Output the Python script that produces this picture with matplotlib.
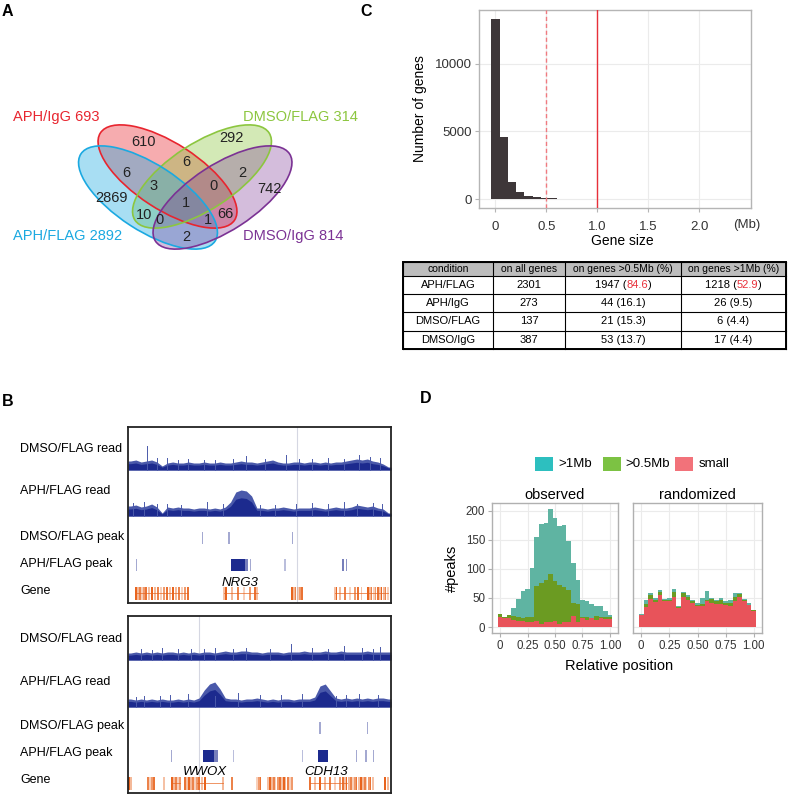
import numpy as np
import matplotlib
matplotlib.use('Agg')
import matplotlib.pyplot as plt
from matplotlib.patches import Ellipse, Rectangle

plt.rcParams['font.family'] = ['Liberation Sans', 'DejaVu Sans']

# ---------------- DATA ----------------
# Panel A (Venn)
venn_names = ["APH/IgG", "DMSO/FLAG", "APH/FLAG", "DMSO/IgG"]
venn_totals = [693, 314, 2892, 814]
venn_regions = [610, 292, 6, 6, 2, 3, 0, 742, 2869, 1, 10, 0, 1, 66, 2]

# Panel C histogram (gene size, Mb) - 30 bins
gene_counts = [13300, 4580, 1280, 517, 246, 148, 74, 50, 30, 20, 14, 8, 6, 5, 4,
               3, 5, 2, 2, 4, 1, 1, 1, 0, 0, 0, 1, 0, 0, 1]
gene_bin_width = 0.081

# Panel C table
table_header = ["condition", "on all genes", "on genes >0.5Mb (%)", "on genes >1Mb (%)"]
table_condition = ["APH/FLAG", "APH/IgG", "DMSO/FLAG", "DMSO/IgG"]
table_all = [2301, 273, 137, 387]
table_05 = [1947, 44, 21, 53]
table_05_pct = [84.6, 16.1, 15.3, 13.7]
table_1 = [1218, 26, 6, 17]
table_1_pct = [52.9, 9.5, 4.4, 4.4]

# Panel B read coverage (50 samples across locus)
nrg3_dmso_read = [9, 10, 8, 9, 10, 8, 4, 7, 8, 7, 7, 8, 7, 7, 8, 7, 7, 8, 7, 7, 8, 9, 8, 8, 7,
                  8, 9, 10, 8, 7, 7, 8, 8, 7, 8, 8, 7, 8, 7, 8, 8, 9, 10, 11, 10, 11, 9, 8, 6, 3]
nrg3_aph_read = [10, 11, 9, 10, 12, 9, 3, 9, 8, 9, 8, 8, 7, 8, 8, 7, 8, 7, 9, 14, 24, 26, 25, 20, 8,
                 8, 7, 8, 8, 9, 8, 7, 8, 8, 8, 9, 8, 7, 8, 9, 8, 8, 9, 11, 10, 9, 10, 8, 7, 3]
wwox_dmso_read = [7, 8, 7, 8, 7, 8, 7, 8, 8, 7, 8, 7, 8, 7, 8, 8, 7, 8, 9, 8, 8, 9, 9, 8, 8,
                  7, 8, 8, 8, 7, 8, 8, 8, 9, 8, 8, 8, 9, 8, 8, 9, 8, 8, 8, 8, 9, 8, 8, 8, 8]
wwox_aph_read = [8, 7, 8, 7, 8, 7, 8, 7, 7, 8, 7, 8, 7, 9, 17, 23, 25, 18, 9, 8, 8, 7, 8, 8, 9,
                 8, 7, 8, 7, 8, 8, 7, 8, 8, 8, 10, 21, 23, 16, 9, 8, 9, 8, 9, 8, 9, 8, 9, 9, 8]
# isolated spikes (position 0-1000, height)
nrg3_dmso_spikes = [(72, 24), (110, 12), (150, 12), (190, 10), (230, 11), (290, 10), (330, 10),
                    (400, 11), (450, 14), (520, 11), (600, 15), (650, 11), (700, 11), (760, 12),
                    (820, 11), (880, 15), (920, 13), (960, 12)]
nrg3_aph_spikes = [(20, 13), (60, 14), (110, 12), (150, 12), (200, 11), (300, 14), (360, 12),
                   (500, 11), (560, 11), (640, 12), (700, 13), (760, 12), (820, 14), (870, 12),
                   (930, 13), (965, 12)]
wwox_dmso_spikes = [(50, 11), (90, 10), (130, 12), (190, 11), (240, 11), (290, 11), (330, 12),
                    (400, 11), (450, 12), (540, 11), (620, 16), (700, 12), (760, 11), (820, 14),
                    (890, 12), (930, 11), (960, 13)]
wwox_aph_spikes = [(30, 10), (60, 11), (120, 11), (160, 12), (230, 13), (330, 11), (420, 14),
                   (500, 12), (580, 12), (660, 13), (790, 11), (830, 12), (880, 13), (950, 12)]

# Peak calls (start, end, intensity)
nrg3_dmso_peaks = [(283, 287, 0.4), (382, 386, 0.4), (622, 626, 0.4)]
nrg3_aph_peaks = [(32, 36, 0.4), (392, 445, 1.0), (445, 456, 0.6), (462, 466, 0.4),
                  (595, 599, 0.3), (815, 820, 0.6), (827, 832, 0.5)]
wwox_dmso_peaks = [(728, 732, 0.4), (907, 911, 0.4)]
wwox_aph_peaks = [(165, 169, 0.4), (285, 327, 1.0), (327, 342, 0.6), (398, 402, 0.3),
                  (660, 664, 0.3), (722, 760, 1.0), (868, 872, 0.4), (903, 907, 0.4), (933, 937, 0.4)]

# Gene exons and introns (positions 0-1000)
nrg3_exons = [30, 38, 46, 53, 61, 68, 80, 91, 103, 114, 125, 137, 148, 160, 171, 182, 194, 205,
              217, 228, 365, 373, 395, 418, 441, 464, 483, 490, 623, 631, 638, 646, 654, 661,
              787, 794, 806, 825, 844, 863, 874, 889, 912, 920, 927, 935, 942, 950, 958, 965,
              973, 980, 988]
nrg3_introns = [(30, 228), (365, 494), (787, 988)]
wwox_exons = [4, 11, 76, 84, 91, 99, 137, 167, 175, 182, 190, 198, 217, 224, 232, 239, 247,
              255, 262, 270, 281, 293, 361, 395, 490, 498, 505, 532, 540, 547, 555, 562, 570,
              578, 585, 593, 600, 608, 616, 623, 692, 711, 730, 749, 768, 787, 806, 817, 825,
              832, 840, 848, 855, 863, 870, 878, 886, 893, 901, 908, 916, 923, 931, 977, 988]
wwox_introns = [(262, 361), (692, 832), (167, 198)]

# Panel D histogram of relative peak position (25 bins)
obs_small = [17, 16, 15, 13, 11, 10, 8, 9, 10, 5, 8, 8, 11, 5, 8, 8, 19, 8, 15, 13, 15, 13, 15, 14, 14]
obs_mid = [5, 1, 5, 6, 7, 6, 9, 9, 60, 70, 73, 83, 69, 67, 61, 56, 23, 32, 2, 4, 1, 6, 3, 3, 3]
obs_large = [0, 1, 0, 14, 30, 46, 48, 83, 85, 102, 97, 112, 107, 102, 106, 84, 68, 41, 30, 28, 23, 18, 18, 11, 3]
rand_small = [20, 34, 48, 43, 55, 44, 44, 52, 32, 52, 47, 41, 36, 36, 45, 41, 40, 40, 38, 37, 44, 51, 44, 38, 28]
rand_mid = [1, 6, 7, 4, 5, 2, 3, 8, 3, 6, 5, 3, 2, 4, 2, 7, 4, 6, 3, 5, 8, 5, 2, 0, 1]
rand_large = [1, 6, 3, 3, 3, 2, 3, 5, 2, 3, 3, 3, 3, 10, 15, 2, 3, 4, 3, 5, 6, 3, 2, 3, 1]
size_labels = [">1Mb", ">0.5Mb", "small"]

# ---------------- FIGURE ----------------
W, H = 792, 794
fig = plt.figure(figsize=(W / 100, H / 100), dpi=100)
renderer = fig.canvas.get_renderer()


def box(x0, y0, x1, y1):
    return [x0 / W, 1 - y1 / H, (x1 - x0) / W, (y1 - y0) / H]


def ftext(x, y, s, **kw):
    return fig.text(x / W, 1 - y / H, s, **kw)


# panel letters
for lab, (x, y) in zip("ABCD", [(2, 12), (2, 401), (360, 12), (420, 398)]):
    ftext(x, y, lab, fontsize=11.5, fontweight='bold', ha='left', va='center')

# ---------------- Panel A ----------------
axA = fig.add_axes(box(0, 90, 400, 270))
axA.set_xlim(0, 400)
axA.set_ylim(270, 90)
axA.axis('off')
venn_colors = ['#e8252f', '#8cc63f', '#1ba9e1', '#7b3294']
venn_alpha = [0.38, 0.38, 0.38, 0.32]
venn_centers = [(167.5, 176.5), (202, 176.5), (148, 197.5), (222.5, 197.5)]
venn_angles = [33, -33, 33, -33]
for c, col, a, ang in zip(venn_centers, venn_colors, venn_alpha, venn_angles):
    axA.add_patch(Ellipse(c, 160, 66, angle=ang, facecolor=col, alpha=a, edgecolor='none'))
for c, col, ang in zip(venn_centers, venn_colors, venn_angles):
    axA.add_patch(Ellipse(c, 160, 66, angle=ang, facecolor='none', edgecolor=col, lw=1.2))
region_pos = [(143, 142), (231, 138), (186, 162), (126, 173), (242, 173), (154, 186),
              (213, 186), (269, 189), (111, 198), (186, 203), (144, 215), (160, 220),
              (208, 220), (225, 214), (186, 237)]
for (x, y), v in zip(region_pos, venn_regions):
    axA.text(x, y, str(v), ha='center', va='center', fontsize=10.5, color='#222222')
label_pos = [(13, 117), (243, 117), (13, 236), (243, 236)]
for (x, y), n, t, col in zip(label_pos, venn_names, venn_totals, venn_colors):
    axA.text(x, y, f"{n} {t}", ha='left', va='center', fontsize=10.5, color=col)

# ---------------- Panel C histogram ----------------
grey_txt = '#333333'
axC = fig.add_axes(box(479, 10, 751, 208))
centers = np.arange(len(gene_counts)) * gene_bin_width
axC.bar(centers, gene_counts, width=gene_bin_width, color='#3e3739', linewidth=0, zorder=2)
axC.axvline(0.5, color='#f07a80', ls=(0, (3, 2)), lw=1, zorder=3)
axC.axvline(1.0, color='#e8303a', lw=1, zorder=3)
axC.set_xlim(-0.162, 2.51)
axC.set_ylim(-665, 13990)
axC.set_xticks([0, 0.5, 1.0, 1.5, 2.0])
axC.set_xticklabels(['0', '0.5', '1.0', '1.5', '2.0'])
axC.set_yticks([0, 5000, 10000])
axC.grid(True, color='#ebebeb', lw=0.8)
axC.set_axisbelow(True)
for s in axC.spines.values():
    s.set_color('#b5b5b5')
    s.set_linewidth(1)
axC.tick_params(color='#b5b5b5', length=3, labelsize=9.5, labelcolor=grey_txt, pad=2)
axC.tick_params(axis='x', pad=6)
ftext(747, 225, '(Mb)', ha='center', va='center', fontsize=9.5, color=grey_txt)
ftext(622, 241, 'Gene size', ha='center', va='center', fontsize=10)
ftext(420, 109, 'Number of genes', ha='center', va='center', fontsize=10, rotation=90)

# ---------------- Panel C table ----------------
axT = fig.add_axes(box(403, 262, 786, 349))
axT.set_xlim(403, 786)
axT.set_ylim(349, 262)
axT.axis('off')
col_x = [403, 493, 565, 681, 786]
row_y = [262, 276, 294, 312, 331, 349]
axT.add_patch(Rectangle((col_x[0], row_y[0]), col_x[-1] - col_x[0], row_y[1] - row_y[0],
                        facecolor='#bdbdbd', edgecolor='none'))
for y in row_y:
    axT.plot([col_x[0], col_x[-1]], [y, y], color='black', lw=0.8, clip_on=False)
for x in col_x:
    axT.plot([x, x], [row_y[0], row_y[-1]], color='black', lw=0.8, clip_on=False)
axT.add_patch(Rectangle((col_x[0], row_y[0]), col_x[-1] - col_x[0], row_y[-1] - row_y[0],
                        facecolor='none', edgecolor='black', lw=1.4, clip_on=False))
fs_h = 7.5
fs_t = 8.0
for j, h in enumerate(table_header):
    axT.text((col_x[j] + col_x[j + 1]) / 2, (row_y[0] + row_y[1]) / 2, h,
             ha='center', va='center', fontsize=fs_h)


def mixed_cell(cx, cy, num, pct, red):
    full = f"{num} ({pct})"
    if not red:
        axT.text(cx, cy, full, ha='center', va='center', fontsize=fs_t)
        return
    t0 = axT.text(cx, cy, full, ha='center', va='center', fontsize=fs_t)
    bb = t0.get_window_extent(renderer=renderer)
    t0.remove()
    inv = axT.transData.inverted()
    x_left = inv.transform((bb.x0, bb.y0))[0]
    t1 = axT.text(x_left, cy, f"{num} (", ha='left', va='center', fontsize=fs_t)
    t2 = axT.annotate(f"{pct}", xy=(1, 0), xycoords=t1, ha='left', va='bottom', fontsize=fs_t,
                      color='#e8303a')
    axT.annotate(")", xy=(1, 0), xycoords=t2, ha='left', va='bottom', fontsize=fs_t)


for i in range(len(table_condition)):
    cy = (row_y[i + 1] + row_y[i + 2]) / 2
    axT.text((col_x[0] + col_x[1]) / 2, cy, table_condition[i], ha='center', va='center', fontsize=fs_t)
    axT.text((col_x[1] + col_x[2]) / 2, cy, str(table_all[i]), ha='center', va='center', fontsize=fs_t)
    mixed_cell((col_x[2] + col_x[3]) / 2, cy, table_05[i], table_05_pct[i], i == 0)
    mixed_cell((col_x[3] + col_x[4]) / 2, cy, table_1[i], table_1_pct[i], i == 0)

# ---------------- Panel B ----------------
navy = '#1c2a8e'
light_navy = '#4a59aa'
orange = '#e8641e'


def draw_locus(ax, dmso_read, aph_read, dmso_sp, aph_sp, dmso_pk, aph_pk, exons, introns,
               gene_names, vline_x, base_dmso, base_aph, pk_dmso_y, pk_aph_y, gene_y, name_y):
    n = len(dmso_read)
    xs = (np.arange(n) + 0.5) * 1000 / n
    xs = np.concatenate([[0], xs, [1000]])
    ax.axvline(vline_x, color='#d5d7e2', lw=0.8, zorder=0)
    for vals, base, sp in [(dmso_read, base_dmso, dmso_sp), (aph_read, base_aph, aph_sp)]:
        vals = np.array(vals, dtype=float)
        vals = np.concatenate([[vals[0]], vals, [vals[-1]]])
        ax.fill_between(xs, base, base + vals, color=light_navy, linewidth=0)
        ax.fill_between(xs, base, base + vals * 0.7, color=navy, linewidth=0)
        for (p, h) in sp:
            ax.plot([p, p], [base, base + h], color=light_navy, lw=0.7)
    for pk, yc in [(dmso_pk, pk_dmso_y), (aph_pk, pk_aph_y)]:
        for (s, e, a) in pk:
            ax.add_patch(Rectangle((s, yc - 6), e - s, 12, facecolor=navy, alpha=a, linewidth=0))
    for (s, e) in introns:
        ax.plot([s, e], [gene_y, gene_y], color=orange, lw=0.6, alpha=0.8)
    alphas = [1.0, 0.45, 0.8, 0.3, 0.65, 0.9, 0.4]
    for k, ex in enumerate(exons):
        ax.add_patch(Rectangle((ex - 2.5, gene_y - 6.5), 5, 13, facecolor=orange,
                               alpha=alphas[k % len(alphas)], linewidth=0))
    for (nm, x) in gene_names:
        ax.text(x, name_y, nm, ha='center', va='center', fontsize=9.5, style='italic')
    ax.set_xlim(0, 1000)
    ax.set_xticks([])
    ax.set_yticks([])
    for s in ax.spines.values():
        s.set_color('#222222')
        s.set_linewidth(1.3)


axB1 = fig.add_axes(box(128, 427, 391, 603))
axB1.set_ylim(0, 176)
draw_locus(axB1, nrg3_dmso_read, nrg3_aph_read, nrg3_dmso_spikes, nrg3_aph_spikes,
           nrg3_dmso_peaks, nrg3_aph_peaks, nrg3_exons, nrg3_introns,
           [("NRG3", 426)], 642, 133, 87, 65, 38, 10, 20)
axB2 = fig.add_axes(box(128, 616, 391, 793))
axB2.set_ylim(0, 177)
draw_locus(axB2, wwox_dmso_read, wwox_aph_read, wwox_dmso_spikes, wwox_aph_spikes,
           wwox_dmso_peaks, wwox_aph_peaks, wwox_exons, wwox_introns,
           [("WWOX", 293), ("CDH13", 752)], 270, 133, 86, 65, 37, 10, 21)

track_labels = ["DMSO/FLAG read", "APH/FLAG read", "DMSO/FLAG peak", "APH/FLAG peak", "Gene"]
for ys in ([449, 491, 537, 564, 591], [639, 682, 726, 753, 780]):
    for y, t in zip(ys, track_labels):
        ftext(20, y, t, ha='left', va='center', fontsize=9)

# ---------------- Panel D ----------------
cols_plot = ['#5fb4a2', '#6b9b22', '#e8535a']   # >1Mb, >0.5Mb, small
cols_leg = ['#2dbfbf', '#7cc243', '#f2727a']
nb = len(obs_small)
pos = np.arange(nb) / (nb - 1)
bw = 1 / (nb - 1)
axes_D = []
for (x0, x1), (sm, md, lg), title in [((492, 618), (obs_small, obs_mid, obs_large), 'observed'),
                                      ((633, 762), (rand_small, rand_mid, rand_large), 'randomized')]:
    ax = fig.add_axes(box(x0, 503, x1, 633))
    sm = np.array(sm); md = np.array(md); lg = np.array(lg)
    ax.bar(pos, sm, width=bw, color=cols_plot[2], linewidth=0, zorder=2)
    ax.bar(pos, md, width=bw, bottom=sm, color=cols_plot[1], linewidth=0, zorder=2)
    ax.bar(pos, lg, width=bw, bottom=sm + md, color=cols_plot[0], linewidth=0, zorder=2)
    ax.set_xlim(-0.073, 1.073)
    ax.set_ylim(-10.15, 213.15)
    ax.set_xticks([0, 0.25, 0.5, 0.75, 1.0])
    ax.set_xticklabels(['0', '0.25', '0.50', '0.75', '1.00'])
    ax.set_yticks([0, 50, 100, 150, 200])
    ax.grid(True, color='#ebebeb', lw=0.8)
    ax.set_axisbelow(True)
    for s in ax.spines.values():
        s.set_color('#b0b0b0')
        s.set_linewidth(1)
    ax.tick_params(color='#b0b0b0', length=3, labelsize=8.3, labelcolor=grey_txt, pad=2)
    ftext((x0 + x1) / 2, 495, title, ha='center', va='center', fontsize=10.5)
    axes_D.append(ax)
axes_D[1].tick_params(labelleft=False, length=0, axis='y')

for (lx, tx), col, lab in zip([(535, 558), (603, 625), (675, 699)], cols_leg, size_labels):
    fig.patches.append(Rectangle((lx / W, 1 - 471 / H), 18 / W, 14 / H, transform=fig.transFigure,
                                 facecolor=col, edgecolor='none'))
    ftext(tx, 464, lab, ha='left', va='center', fontsize=9.5)
ftext(452, 568, '#peaks', ha='center', va='center', fontsize=10.5, rotation=90)
ftext(619, 666, 'Relative position', ha='center', va='center', fontsize=10.5)

fig.savefig('out.png', dpi=100)
